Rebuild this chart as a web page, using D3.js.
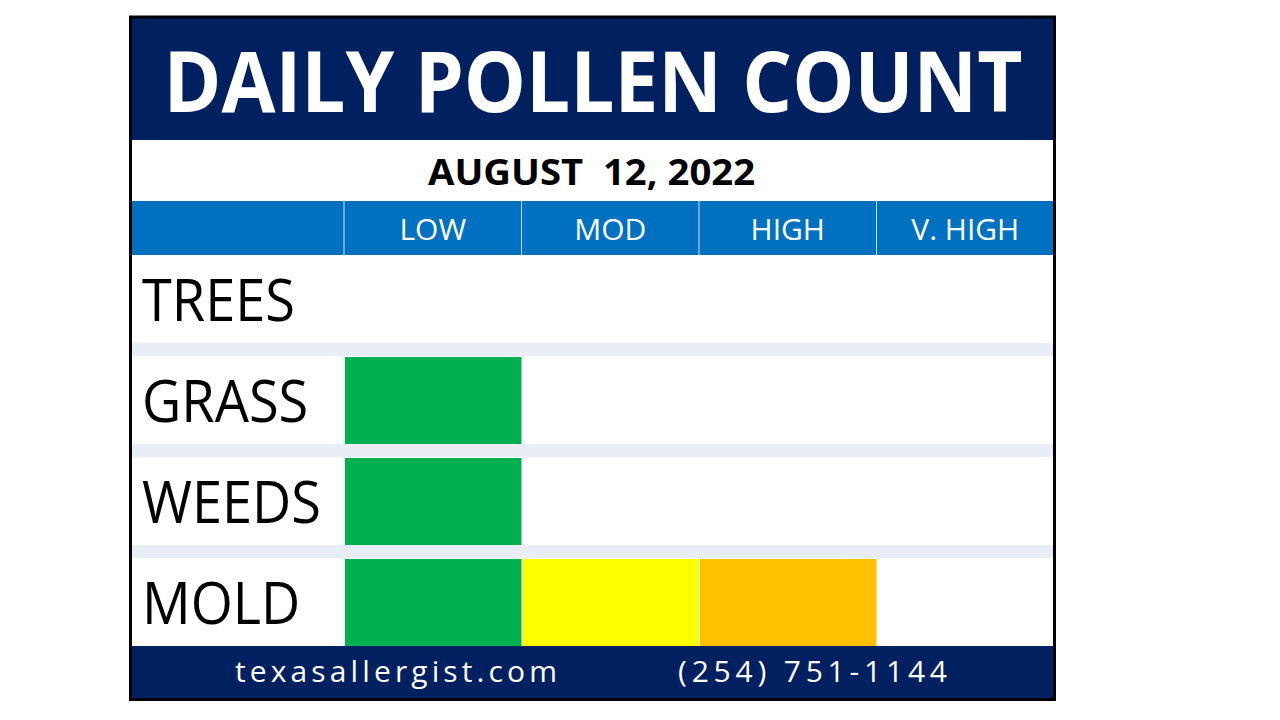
<!DOCTYPE html>
<html>
<head>
<meta charset="utf-8">
<script src="https://cdn.jsdelivr.net/npm/d3@7"></script>
<style>
  body { margin: 0; background: #fff; }
  svg { display: block; font-family: "Open Sans", sans-serif; }
</style>
</head>
<body>
<div id="chart"></div>
<script>
// chart data
const title = "DAILY POLLEN COUNT"
const dateLabel = "AUGUST  12, 2022"
const categories = ["TREES", "GRASS", "WEEDS", "MOLD"]
const levels = ["LOW", "MOD", "HIGH", "V. HIGH"]
// how many level cells are filled for each category (0 = none)
const levelCount = [0, 1, 1, 3]
const levelColors = ["#00B050", "#FFFF00", "#FFC000", "#FF0000"]
const footerSite = "texasallergist.com"
const footerPhone = "(254) 751-1144"

const width = 1280, height = 720
const navy = "#002060", blue = "#0070C0", sep = "#E9EEF6"

const svg = d3.select("#chart").append("svg")
  .attr("width", width)
  .attr("height", height)

// box geometry
const boxLeft = 132, boxRight = 1054, boxTop = 18, boxBottom = 698
const labelCol = 344

// scales
const x = d3.scaleBand().domain(levels).range([labelCol, boxRight])
const y = d3.scaleBand().domain(categories).range([255, 646]).paddingInner(13 / 101)

// title band
svg.append("rect").attr("x", boxLeft).attr("y", boxTop).attr("width", boxRight - boxLeft).attr("height", 140 - boxTop).attr("fill", navy)
svg.append("text")
  .attr("x", (boxLeft + boxRight) / 2).attr("y", 112)
  .attr("text-anchor", "middle")
  .attr("fill", "#fff").attr("font-weight", 700).attr("font-size", 84)
  .attr("textLength", 859).attr("lengthAdjust", "spacingAndGlyphs")
  .text(title)

// date
svg.append("text")
  .attr("x", 591.5).attr("y", 185)
  .attr("text-anchor", "middle")
  .attr("fill", "#000").attr("font-weight", 700).attr("font-size", 35)
  .attr("textLength", 327).attr("lengthAdjust", "spacingAndGlyphs")
  .style("white-space", "pre")
  .text(dateLabel)

// header band
svg.append("rect").attr("x", boxLeft).attr("y", 201).attr("width", boxRight - boxLeft).attr("height", 54).attr("fill", blue)
svg.selectAll(".hdiv")
  .data(levels)
  .join("line")
    .attr("x1", d => x(d)).attr("x2", d => x(d))
    .attr("y1", 201).attr("y2", 255)
    .attr("stroke", "#fff").attr("stroke-opacity", 0.8).attr("stroke-width", 1)
svg.selectAll(".hlab")
  .data(levels)
  .join("text")
    .attr("x", d => x(d) + x.bandwidth() / 2)
    .attr("y", 240)
    .attr("text-anchor", "middle")
    .attr("fill", "#fff").attr("font-size", 30)
    .text(d => d)

// row area: separators behind white rows
svg.append("rect").attr("x", boxLeft).attr("y", 255).attr("width", boxRight - boxLeft).attr("height", 391).attr("fill", sep)
svg.selectAll(".row")
  .data(categories)
  .join("rect")
    .attr("x", boxLeft).attr("width", boxRight - boxLeft)
    .attr("y", d => y(d)).attr("height", y.bandwidth())
    .attr("fill", "#fff")

// level cells
const cells = []
categories.forEach((c, i) => {
  for (let k = 0; k < levelCount[i]; k++) cells.push({ cat: c, level: levels[k], color: levelColors[k] })
})
svg.selectAll(".cell")
  .data(cells)
  .join("rect")
    .attr("x", d => x(d.level) + 1)
    .attr("width", x.bandwidth() - 1)
    .attr("y", d => y(d.cat) + 1)
    .attr("height", y.bandwidth() - 1)
    .attr("fill", d => d.color)

// row labels, squeezed a little so they look like the narrow original face
const rowLabels = svg.selectAll(".rlab")
  .data(categories)
  .join("text")
    .attr("x", 142)
    .attr("y", d => y(d) + 66)
    .attr("fill", "#000").attr("font-size", 59)
    .text(d => d)
const squeeze = 153 / rowLabels.nodes()[0].getComputedTextLength()
rowLabels.each(function () {
  d3.select(this)
    .attr("textLength", this.getComputedTextLength() * squeeze)
    .attr("lengthAdjust", "spacingAndGlyphs")
})

// footer
svg.append("rect").attr("x", boxLeft).attr("y", 646).attr("width", boxRight - boxLeft).attr("height", boxBottom - 646).attr("fill", navy)
svg.append("text")
  .attr("x", 235).attr("y", 682)
  .attr("fill", "#fff").attr("font-size", 30)
  .attr("textLength", 322).attr("lengthAdjust", "spacing")
  .text(footerSite)
svg.append("text")
  .attr("x", 678).attr("y", 682)
  .attr("fill", "#fff").attr("font-size", 30)
  .attr("textLength", 269).attr("lengthAdjust", "spacing")
  .text(footerPhone)

// outer border
svg.append("rect")
  .attr("x", 130.5).attr("y", 17).attr("width", 924).attr("height", 682.5)
  .attr("fill", "none").attr("stroke", "#000").attr("stroke-width", 3)
</script>
</body>
</html>
